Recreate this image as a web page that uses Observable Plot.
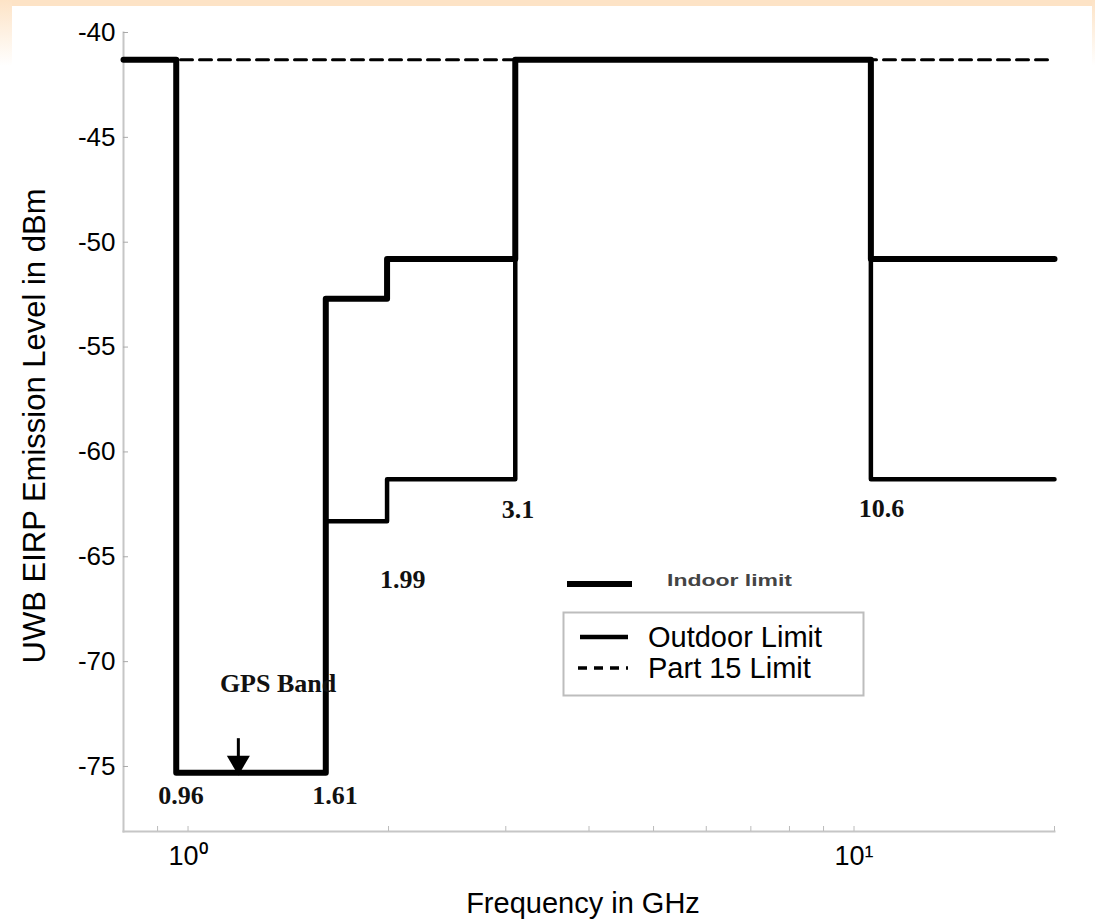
<!DOCTYPE html>
<html>
<head>
<meta charset="utf-8">
<script src="https://cdn.jsdelivr.net/npm/d3@7"></script>
<script src="https://cdn.jsdelivr.net/npm/@observablehq/plot@0.6"></script>
<style>
  html, body { margin: 0; padding: 0; background: #fff; }
  #wrap { position: relative; width: 1095px; height: 922px; overflow: hidden; background: #fff; }
  .band-top { position: absolute; left: 0; top: 0; width: 1095px; height: 6px; background: #fde3c6; }
  .band-left { position: absolute; left: 0; top: 0; width: 12px; height: 66px; background: linear-gradient(#fde3c6, #fff); }
  .band-right { position: absolute; right: 0; top: 0; width: 3px; height: 66px; background: linear-gradient(#fde3c6, #fff); }
  #chart { position: absolute; left: 0; top: 0; }
  #legend { position: absolute; left: 0; top: 0; pointer-events: none; }
</style>
</head>
<body>
<div id="wrap">
  <div class="band-top"></div>
  <div class="band-left"></div>
  <div class="band-right"></div>
  <div id="chart"></div>
</div>
<script>
// ---- data ----
const freqEdges = [0.8, 0.96, 1.61, 1.99, 3.1, 10.6, 20];          // GHz
const outdoorLevels = [-41.3, -75.3, -63.3, -61.3, -41.3, -61.3];   // dBm per band
const indoorLevels  = [-41.3, -75.3, -52.7, -50.8, -41.3, -50.8];   // dBm per band
const part15Level = -41.3;
const yTicks = [-75, -70, -65, -60, -55, -50, -45, -40];
const xMajorTicks = [1, 10];
const xMajorLabels = ["10\u2070", "10\u00B9"];
const xMinorTicks = [0.9, 2, 3, 4, 5, 6, 7, 8, 9, 20];
const annoLabels = ["0.96", "1.61", "1.99", "3.1", "10.6", "GPS Band"];
const annoFreq   = [0.976, 1.662, 2.10, 3.13, 11.0, 1.365];
const annoLevel  = [-76.4, -76.4, -66.1, -62.75, -62.7, -71.05];
const gpsFreq = 1.19;
const gpsArrowTop = -73.65;
const gpsArrowTip = -75.4;
const seriesNames = ["Indoor limit", "Outdoor Limit", "Part 15 Limit"];
const xTitle = "Frequency in GHz";
const yTitle = "UWB EIRP Emission Level in dBm";

// ---- derived tables ----
const stepRows = (levels) => freqEdges.map((f, i) => ({f, v: levels[Math.min(i, levels.length - 1)]}));
const outdoor = stepRows(outdoorLevels);
const indoor = stepRows(indoorLevels);
const part15 = [{f: freqEdges[0], v: part15Level}, {f: freqEdges[freqEdges.length - 1], v: part15Level}];
const annos = annoLabels.map((t, i) => ({t, f: annoFreq[i], v: annoLevel[i]}));
const gps = [{f: gpsFreq, top: gpsArrowTop, tip: gpsArrowTip}];

const sans = "'Liberation Sans', Arial, Helvetica, sans-serif";
const serif = "'Liberation Serif', 'Times New Roman', serif";

const chart = Plot.plot({
  width: 1095,
  height: 922,
  marginLeft: 123,
  marginRight: 41,
  marginTop: 32,
  marginBottom: 91,
  style: {fontFamily: sans, fontSize: "26px", color: "black", background: "transparent"},
  x: {type: "log", domain: [0.8, 20]},
  y: {domain: [-78.1, -40]},
  marks: [
    Plot.frame({anchor: "left", stroke: "#c6c6c6", strokeWidth: 2}),
    Plot.frame({anchor: "bottom", stroke: "#c6c6c6", strokeWidth: 2}),
    Plot.axisY(yTicks, {tickSize: -5, tickFormat: () => "", stroke: "#aaa", label: null}),
    Plot.axisY(yTicks, {tickSize: 0, tickPadding: 8, fontSize: 26, tickFormat: (d) => String(d), label: null}),
    Plot.axisX(xMinorTicks.concat(xMajorTicks), {tickSize: -5, tickFormat: () => "", stroke: "#bbb", label: null}),
    Plot.axisX(xMajorTicks, {tickSize: 0, tickPadding: 14, fontSize: 27, tickFormat: (d) => xMajorLabels[xMajorTicks.indexOf(d)], label: null}),
    Plot.text([xTitle], {frameAnchor: "bottom", dx: -6, dy: 72, fontSize: 29, lineAnchor: "middle"}),
    Plot.text([yTitle], {frameAnchor: "left", rotate: -90, dx: -88, dy: -6, fontSize: 31, textAnchor: "middle", lineAnchor: "middle"}),
    Plot.line(part15, {x: "f", y: "v", stroke: "black", strokeWidth: 3, strokeDasharray: "12,7"}),
    Plot.line(outdoor, {x: "f", y: "v", curve: "step-after", stroke: "black", strokeWidth: 4.5}),
    Plot.line(indoor, {x: "f", y: "v", curve: "step-after", stroke: "black", strokeWidth: 6}),
    Plot.link(gps, {x1: "f", x2: "f", y1: "top", y2: "tip", stroke: "black", strokeWidth: 3}),
    Plot.dot(gps, {x: "f", y: (d) => d.tip + 0.6, symbol: "triangle2", rotate: 180, r: 11, fill: "black", stroke: "none"}),
    Plot.text(annos, {x: "f", y: "v", text: "t", fontFamily: serif, fontSize: 26, fontWeight: "bold", fill: "#111"})
  ]
});
document.getElementById("chart").appendChild(chart);

// ---- legend (overlay) ----
const leg = d3.select("#wrap").append("svg").attr("id", "legend").attr("width", 1095).attr("height", 922);
// indoor entry (outside box)
leg.append("line").attr("x1", 567).attr("x2", 632).attr("y1", 584).attr("y2", 584)
  .attr("stroke", "black").attr("stroke-width", 6);
leg.append("text").attr("x", 667).attr("y", 580).attr("dominant-baseline", "central")
  .attr("font-family", sans).attr("font-weight", "bold").attr("font-size", 17).attr("fill", "#444")
  .attr("textLength", 125).attr("lengthAdjust", "spacingAndGlyphs").text(seriesNames[0]);
// box
leg.append("rect").attr("x", 563.5).attr("y", 612.5).attr("width", 300).attr("height", 83)
  .attr("fill", "white").attr("stroke", "#bdbdbd").attr("stroke-width", 2);
leg.append("line").attr("x1", 580).attr("x2", 628).attr("y1", 637).attr("y2", 637)
  .attr("stroke", "black").attr("stroke-width", 4.5);
leg.append("text").attr("x", 648).attr("y", 637).attr("dominant-baseline", "central")
  .attr("font-family", sans).attr("font-size", 29).attr("fill", "black").text(seriesNames[1]);
leg.append("line").attr("x1", 578).attr("x2", 628).attr("y1", 668).attr("y2", 668)
  .attr("stroke", "black").attr("stroke-width", 3.5).attr("stroke-dasharray", "9,7");
leg.append("text").attr("x", 648).attr("y", 668).attr("dominant-baseline", "central")
  .attr("font-family", sans).attr("font-size", 29).attr("fill", "black").text(seriesNames[2]);
</script>
</body>
</html>
